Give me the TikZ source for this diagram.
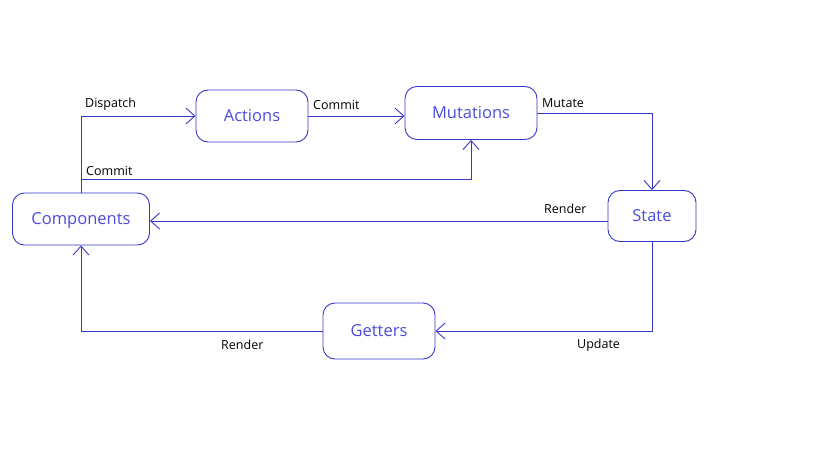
\documentclass[tikz,border=0pt]{standalone}
\usepackage{fontspec}
\setmainfont{Open Sans}
\usetikzlibrary{arrows.meta}
\definecolor{flowblue}{RGB}{55,55,205}
\definecolor{boxtext}{RGB}{75,75,220}
\begin{document}
\begin{tikzpicture}[x=1pt,y=-1pt,
    box/.style={draw=flowblue,line width=0.9pt,rounded corners=12pt,text=boxtext,
        font=\fontsize{16.5}{18}\selectfont,inner sep=0pt,text depth=1pt},
    flow/.style={draw=flowblue,line width=0.9pt,-{Straight Barb[length=9pt,width=16pt]}},
    lbl/.style={font=\fontsize{12.5}{14}\selectfont,text=black,inner sep=0pt}]
    \useasboundingbox (0,0) rectangle (819,460);
    % stores
    \node[box,minimum width=112pt,minimum height=52pt] (actions) at (252,116) {Actions};
    \node[box,minimum width=132pt,minimum height=53pt] (mutations) at (471,113) {Mutations};
    \node[box,minimum width=137pt,minimum height=52pt] (components) at (81,219) {Components};
    \node[box,minimum width=88pt,minimum height=51pt] (state) at (652,216) {State};
    \node[box,minimum width=112pt,minimum height=56pt] (getters) at (379,331) {Getters};
    % connections
    \draw[flow] (components.north) |- (actions.west);
    \draw[flow] (actions.east) -- (mutations.west |- actions.east);
    \draw[flow] (components.north) -- (81,179) -| (mutations.south);
    \draw[flow] (mutations.east) -| (state.north);
    \draw[flow] (state.west |- 0,221) -- (components.east |- 0,221);
    \draw[flow] (state.south) |- (getters.east);
    \draw[flow] (getters.west) -| (components.south);
    % labels
    \node[lbl,anchor=base west] (ldispatch) at (85,107) {Dispatch};
    \node[lbl,anchor=base west] (lcommita) at (313,110) {Commit};
    \node[lbl,anchor=base west] (lcommitb) at (86,175) {Commit};
    \node[lbl,anchor=base west] (lmutate) at (542,107) {Mutate};
    \node[lbl,anchor=base west] (lrenders) at (544,213) {Render};
    \node[lbl,anchor=base west] (lupdate) at (577,348) {Update};
    \node[lbl,anchor=base west] (lrenderg) at (221,349) {Render};
\end{tikzpicture}
\end{document}
